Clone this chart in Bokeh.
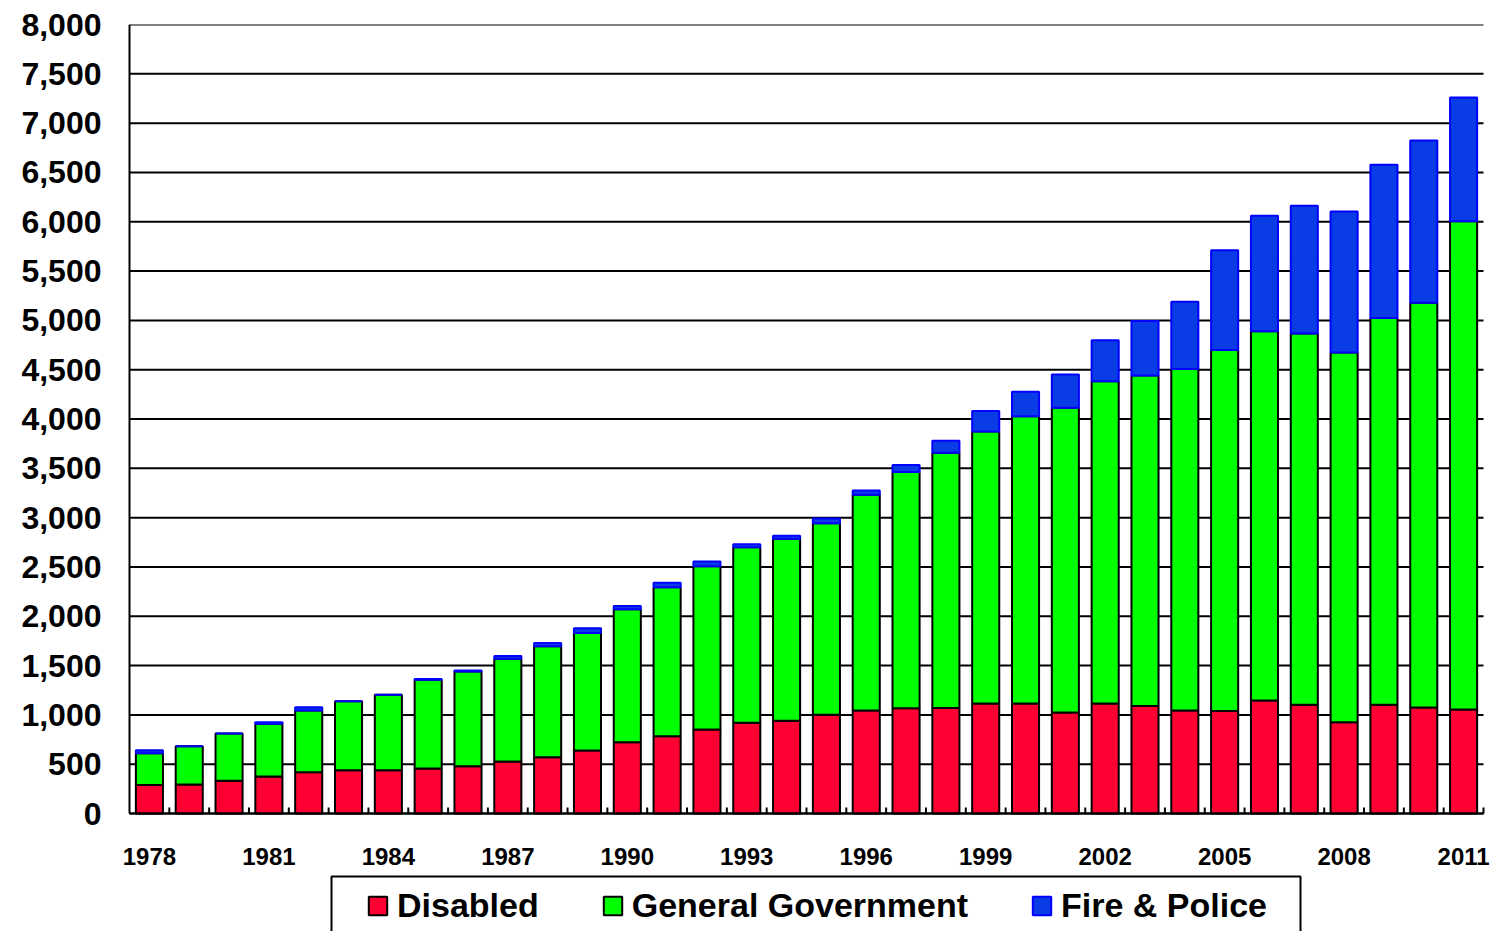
from bokeh.plotting import figure
from bokeh.models import (ColumnDataSource, Range1d, FixedTicker, NumeralTickFormatter,
                          Legend, BoxAnnotation)
from bokeh.core.properties import value
from bokeh.embed import file_html
from bokeh.resources import INLINE

years = list(range(1978, 2012))
disabled = [290, 294, 332, 375, 419, 439, 439, 456, 480, 527, 571, 639, 723, 784, 852, 920, 940,
            1001, 1045, 1068, 1069, 1115, 1115, 1024, 1115, 1090, 1045, 1040, 1146, 1103, 925,
            1103, 1074, 1055]
general = [321, 389, 479, 535, 626, 700, 765, 900, 960, 1042, 1126, 1190, 1349, 1511, 1656, 1780,
           1846, 1943, 2187, 2395, 2590, 2759, 2913, 3091, 3269, 3352, 3463, 3659, 3744, 3763,
           3750, 3922, 4104, 4951]
fire = [31, 0, 0, 15, 33, 0, 0, 8, 10, 28, 32, 50, 31, 45, 48, 31, 30, 48, 44, 71, 120, 206, 248,
        335, 414, 551, 682, 1011, 1170, 1295, 1428, 1553, 1645, 1253]
label_years = list(range(1978, 2012, 3))
y_ticks = list(range(0, 8001, 500))
series_names = ["Disabled", "General Government", "Fire & Police"]
colors = ["#FF0033", "#00FF00", "#0A3CE6"]
edge_colors = ["black", "black", "#0000FF"]

source = ColumnDataSource(dict(year=years, disabled=disabled, general=general, fire=fire))

FONT = "Liberation Sans"
W, H = 1493, 931
TOP, LEFT, RIGHT = 24, 119, 0
PAD = 10                 # px of frame outside the category area on each side
PLOT_H = 789             # pixels between 0 and 8000
BELOW = H - TOP - PLOT_H
y_max = y_ticks[-1]
y_min = -y_max * BELOW / PLOT_H
x_lo, x_hi = years[0] - 0.5, years[-1] + 0.5
px_per_unit = (W - LEFT - RIGHT - 2 * PAD) / (x_hi - x_lo)
pad_u = PAD / px_per_unit

p = figure(width=W, height=H, output_backend="svg", toolbar_location=None,
           x_range=Range1d(x_lo - pad_u, x_hi + pad_u), y_range=Range1d(y_min, y_max),
           min_border_left=LEFT, min_border_right=RIGHT, min_border_top=TOP,
           min_border_bottom=0)

# horizontal grid lines from the axis to the right end
p.segment(x0=[x_lo] * len(y_ticks), y0=y_ticks, x1=[x_hi] * len(y_ticks), y1=y_ticks,
          line_color="black", line_width=2)

renderers = p.vbar_stack(["disabled", "general", "fire"], x="year", width=0.68,
                         fill_color=colors, line_color=edge_colors, line_width=2,
                         source=source)

p.outline_line_color = None
p.xaxis.visible = False
p.xgrid.grid_line_color = None
p.ygrid.grid_line_color = None

ya = p.yaxis[0]
ya.ticker = FixedTicker(ticks=y_ticks)
ya.formatter = NumeralTickFormatter(format="0,0")
ya.major_label_text_font = FONT
ya.major_label_text_font_style = "bold"
ya.major_label_text_font_size = "32px"
ya.major_label_text_color = "black"
ya.major_tick_out = 0
ya.major_tick_in = 0
ya.minor_tick_out = 0
ya.minor_tick_in = 0
ya.major_label_standoff = 18
ya.axis_line_color = None

# axis lines (y axis from 0 to max, x axis along 0)
p.segment(x0=[x_lo], y0=[0], x1=[x_lo], y1=[y_max], line_color="black", line_width=2)
p.segment(x0=[x_lo], y0=[0], x1=[x_hi], y1=[0], line_color="black", line_width=2)

# small tick marks between categories
units_per_px = y_max / PLOT_H
bounds = [y + 0.5 for y in years]
p.segment(x0=bounds, y0=[0] * len(bounds), x1=bounds, y1=[6 * units_per_px] * len(bounds),
          line_color="black", line_width=2)

# x tick labels
p.text(x=label_years, y=[0] * len(label_years), text=[str(y) for y in label_years],
       y_offset=34, text_align="center", text_baseline="top",
       text_font=value(FONT), text_font_style="bold", text_font_size="24px",
       text_color="black")

legend = Legend(items=[(n, [r]) for n, r in zip(series_names, renderers)],
                orientation="horizontal", location=(237 + PAD, 6),
                label_text_font=FONT, label_text_font_style="bold",
                label_text_font_size="34px", label_text_color="black",
                glyph_width=23, glyph_height=23, label_standoff=8, spacing=62,
                padding=11, margin=0, border_line_color=None,
                background_fill_color=None)
p.add_layout(legend, "center")

frame_box = BoxAnnotation(left=331, right=1300, top=876, bottom=960,
                          left_units="canvas", right_units="canvas",
                          top_units="canvas", bottom_units="canvas",
                          fill_color=None, fill_alpha=0, line_color="black",
                          line_alpha=1.0, line_width=2)
p.add_layout(frame_box)

open("out.html", "w").write(file_html(p, INLINE))
